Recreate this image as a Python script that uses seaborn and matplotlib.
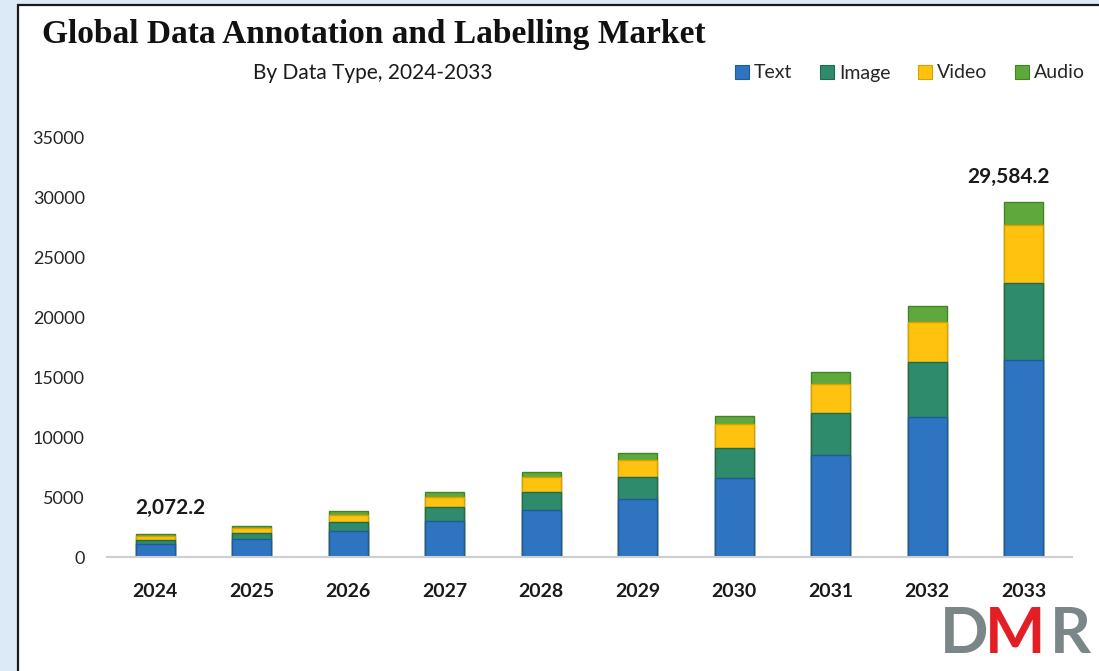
import numpy as np
import pandas as pd
import matplotlib
matplotlib.use("Agg")
import matplotlib.pyplot as plt
from matplotlib.patches import Patch, Rectangle
import seaborn as sns

years = ["2024", "2025", "2026", "2027", "2028", "2029", "2030", "2031", "2032", "2033"]
text_vals = [1100, 1470, 2170, 3000, 3920, 4830, 6560, 8500, 11700, 16420]
image_vals = [340, 500, 720, 1140, 1470, 1860, 2550, 3470, 4580, 6390]
video_vals = [330, 420, 610, 890, 1250, 1390, 1970, 2450, 3330, 4860]
audio_vals = [180, 190, 360, 360, 420, 560, 700, 970, 1310, 1914.2]
series_names = ["Text", "Image", "Video", "Audio"]
series_colors = ["#2f74c0", "#2e8b6b", "#ffc20e", "#5fa83b"]
edge_colors = ["#1f5a99", "#1f6b50", "#d9a000", "#3f8526"]
label_texts = {"2024": "2,072.2", "2033": "29,584.2"}
yticks = [0, 5000, 10000, 15000, 20000, 25000, 30000, 35000]

sns.set_theme(style="white")
plt.rcParams["font.family"] = ["Lato", "DejaVu Sans"]

W, H = 1099, 671
fig = plt.figure(figsize=(W / 100, H / 100), dpi=100)
fig.patch.set_facecolor("#dce9f6")
# white card
fig.patches.append(Rectangle((18 / W, -0.05), 1 - 18 / W + 0.01, (H - 5) / H + 0.05,
                             transform=fig.transFigure, facecolor="white",
                             edgecolor="#1a1a1a", linewidth=1.6, zorder=-5))

ax = fig.add_axes([107 / W, (H - 557) / H, (1072 - 107) / W, (557 - 137) / H])
ax.set_facecolor("none")
ax.set_zorder(2)

df = pd.DataFrame({"year": years, "Text": text_vals, "Image": image_vals,
                   "Video": video_vals, "Audio": audio_vals})
cum = df[series_names].cumsum(axis=1)

# draw cumulative bars from tallest to shortest (stacked look)
for i in range(len(series_names) - 1, -1, -1):
    name = series_names[i]
    sns.barplot(x=df["year"], y=cum[name], order=years, color=series_colors[i],
                width=0.4, edgecolor=edge_colors[i], linewidth=1.0,
                saturation=1, ax=ax)

ax.set_xlim(-0.5, 9.5)
ax.set_ylim(0, 35000)
ax.set_yticks(yticks)
ax.set_yticklabels([str(v) for v in yticks], fontsize=13, color="#262626")
ax.set_xticks(range(len(years)))
ax.set_xticklabels(years, fontsize=14, fontweight="bold", color="#1a1a1a")
ax.tick_params(axis="y", length=0, pad=16)
ax.tick_params(axis="x", length=0, pad=19)
ax.set_xlabel("")
ax.set_ylabel("")
for s in ["top", "right", "left"]:
    ax.spines[s].set_visible(False)
ax.spines["bottom"].set_color("#cfcfcf")
ax.spines["bottom"].set_linewidth(1.5)

totals = cum["Audio"].values
for yr, lab in label_texts.items():
    idx = years.index(yr)
    dx = 11 if yr == "2024" else -11
    ax.annotate(lab, (idx, totals[idx]), xytext=(dx, 11), textcoords="offset points",
                ha="center", va="bottom", fontsize=15, fontweight="bold", color="#1a1a1a")

fig.text(42 / W, 1 - 34 / H, "Global Data Annotation and Labelling Market",
         fontsize=24, fontweight="bold", family=["Liberation Serif", "DejaVu Serif"],
         ha="left", va="center", color="#111111")
fig.text(373 / W, 1 - 73 / H, "By Data Type, 2024-2033", fontsize=15,
         ha="center", va="center", color="#1a1a1a")

handles = [Patch(facecolor=c, edgecolor=e, linewidth=0.8) for c, e in zip(series_colors, edge_colors)]
fig.legend(handles, series_names, loc="center right", bbox_to_anchor=(1093 / W, 1 - 73 / H),
           ncol=4, frameon=False, fontsize=14, handlelength=0.75, handleheight=0.75,
           handletextpad=0.25, columnspacing=1.4, borderaxespad=0)

# DMR logo
logo_kw = dict(fontsize=46, fontweight="bold", va="top", ha="left", family=["Lato", "DejaVu Sans"])
fig.text(940 / W, 1 - 606 / H, "D", color="#7b8688", **logo_kw)
fig.text(985 / W, 1 - 606 / H, "M", color="#e31e24", **logo_kw)
fig.text(1050 / W, 1 - 606 / H, "R", color="#7b8688", **logo_kw)

fig.savefig("out.png", dpi=100, facecolor=fig.get_facecolor())
